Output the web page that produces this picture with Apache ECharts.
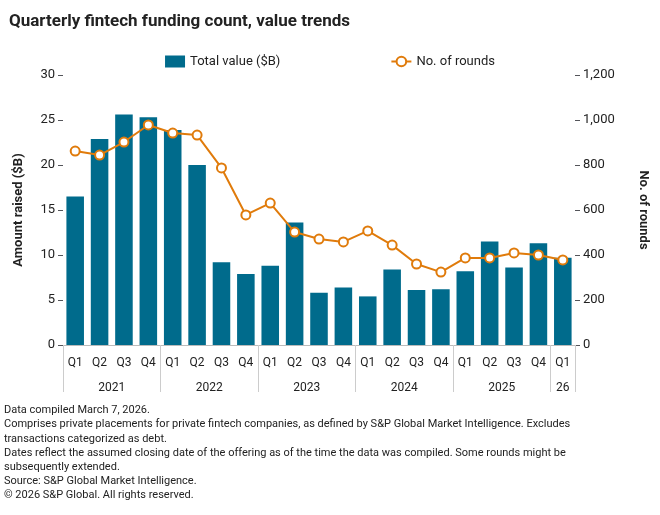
<!DOCTYPE html><html><head><meta charset="utf-8"><script src="https://cdn.jsdelivr.net/npm/echarts@6/dist/echarts.min.js"></script>
<style>body{margin:0}#c{width:660px;height:515px}</style></head><body><div id="c"></div><script>
const quarters=['Q1','Q2','Q3','Q4','Q1','Q2','Q3','Q4','Q1','Q2','Q3','Q4','Q1','Q2','Q3','Q4','Q1','Q2','Q3','Q4','Q1'];
const years=['2021','2022','2023','2024','2025','26'];
const yearCenters=[2,6,10,14,18,20.5];
const yearBounds=[0,4,8,12,16,20,21];
const totalValue=[16.5,22.9,25.6,25.3,23.9,20.0,9.2,7.9,8.8,13.6,5.8,6.4,5.4,8.4,6.1,6.2,8.2,11.5,8.6,11.3,9.7];
const rounds=[862,844,902,978,942,933,787,578,631,502,471,458,507,444,360,324,387,387,409,400,378];
const leftTicks=[0,5,10,15,20,25,30];
const F='Roboto, "Liberation Sans", sans-serif';
const c=echarts.init(document.getElementById('c'));
const notes=['Data compiled March 7, 2026.','Comprises private placements for private fintech companies, as defined by S&P Global Market Intelligence. Excludes','transactions categorized as debt.','Dates reflect the assumed closing date of the offering as of the time the data was compiled. Some rounds might be','subsequently extended.','Source: S&P Global Market Intelligence.','© 2026 S&P Global. All rights reserved.'];
c.setOption({
animation:false,
textStyle:{fontFamily:F},
title:{text:'Quarterly fintech funding count, value trends',left:4,top:8,textStyle:{fontSize:17,fontWeight:'bold',color:'#222',fontFamily:F}},
legend:{top:50,left:'center',itemGap:110,textStyle:{fontSize:13,color:'#222'},data:[{name:'Total value ($B)',icon:'rect'},{name:'No. of rounds'}],itemWidth:20,itemHeight:12},
grid:{left:63,right:85,top:75,bottom:170},
xAxis:[{type:'category',data:quarters,axisTick:{show:false},axisLine:{lineStyle:{color:'#bbb'}},axisLabel:{color:'#222',fontSize:12,margin:12}},
{type:'value',min:0,max:21,position:'bottom',axisLine:{show:false},splitLine:{show:false},
 axisTick:{show:true,customValues:yearBounds,length:47,inside:false,lineStyle:{color:'#ccc'}},
 axisLabel:{customValues:yearCenters,margin:37,color:'#222',fontSize:12,formatter:v=>years[yearCenters.indexOf(v)]}}],
yAxis:[{type:'value',min:0,max:30,interval:5,name:'Amount raised ($B)',nameLocation:'middle',nameGap:38,nameTextStyle:{fontSize:13,fontWeight:'bold',color:'#222'},axisLabel:{color:'#222',fontSize:13},splitLine:{show:false},axisLine:{show:false}},
{type:'value',min:0,max:1200,interval:200,name:'No. of rounds',nameLocation:'middle',nameGap:62,nameRotate:-90,nameTextStyle:{fontSize:13,fontWeight:'bold',color:'#222'},axisLabel:{color:'#222',fontSize:13,formatter:v=>v.toLocaleString('en-US')},splitLine:{show:false},axisLine:{show:false}}],
series:[{name:'Total value ($B)',type:'bar',data:totalValue,barCategoryGap:'28%',itemStyle:{color:'#006b8c'}},
{name:'No. of rounds',type:'line',yAxisIndex:1,data:rounds,symbol:'circle',symbolSize:9,lineStyle:{color:'#e07b0b',width:2},itemStyle:{color:'#fff',borderColor:'#e07b0b',borderWidth:2}}],
graphic:notes.map((t,i)=>({type:'text',left:4,top:405+i*14.2,style:{text:t,fontSize:11,fill:'#222',fontFamily:F}}))
});
</script></body></html>
